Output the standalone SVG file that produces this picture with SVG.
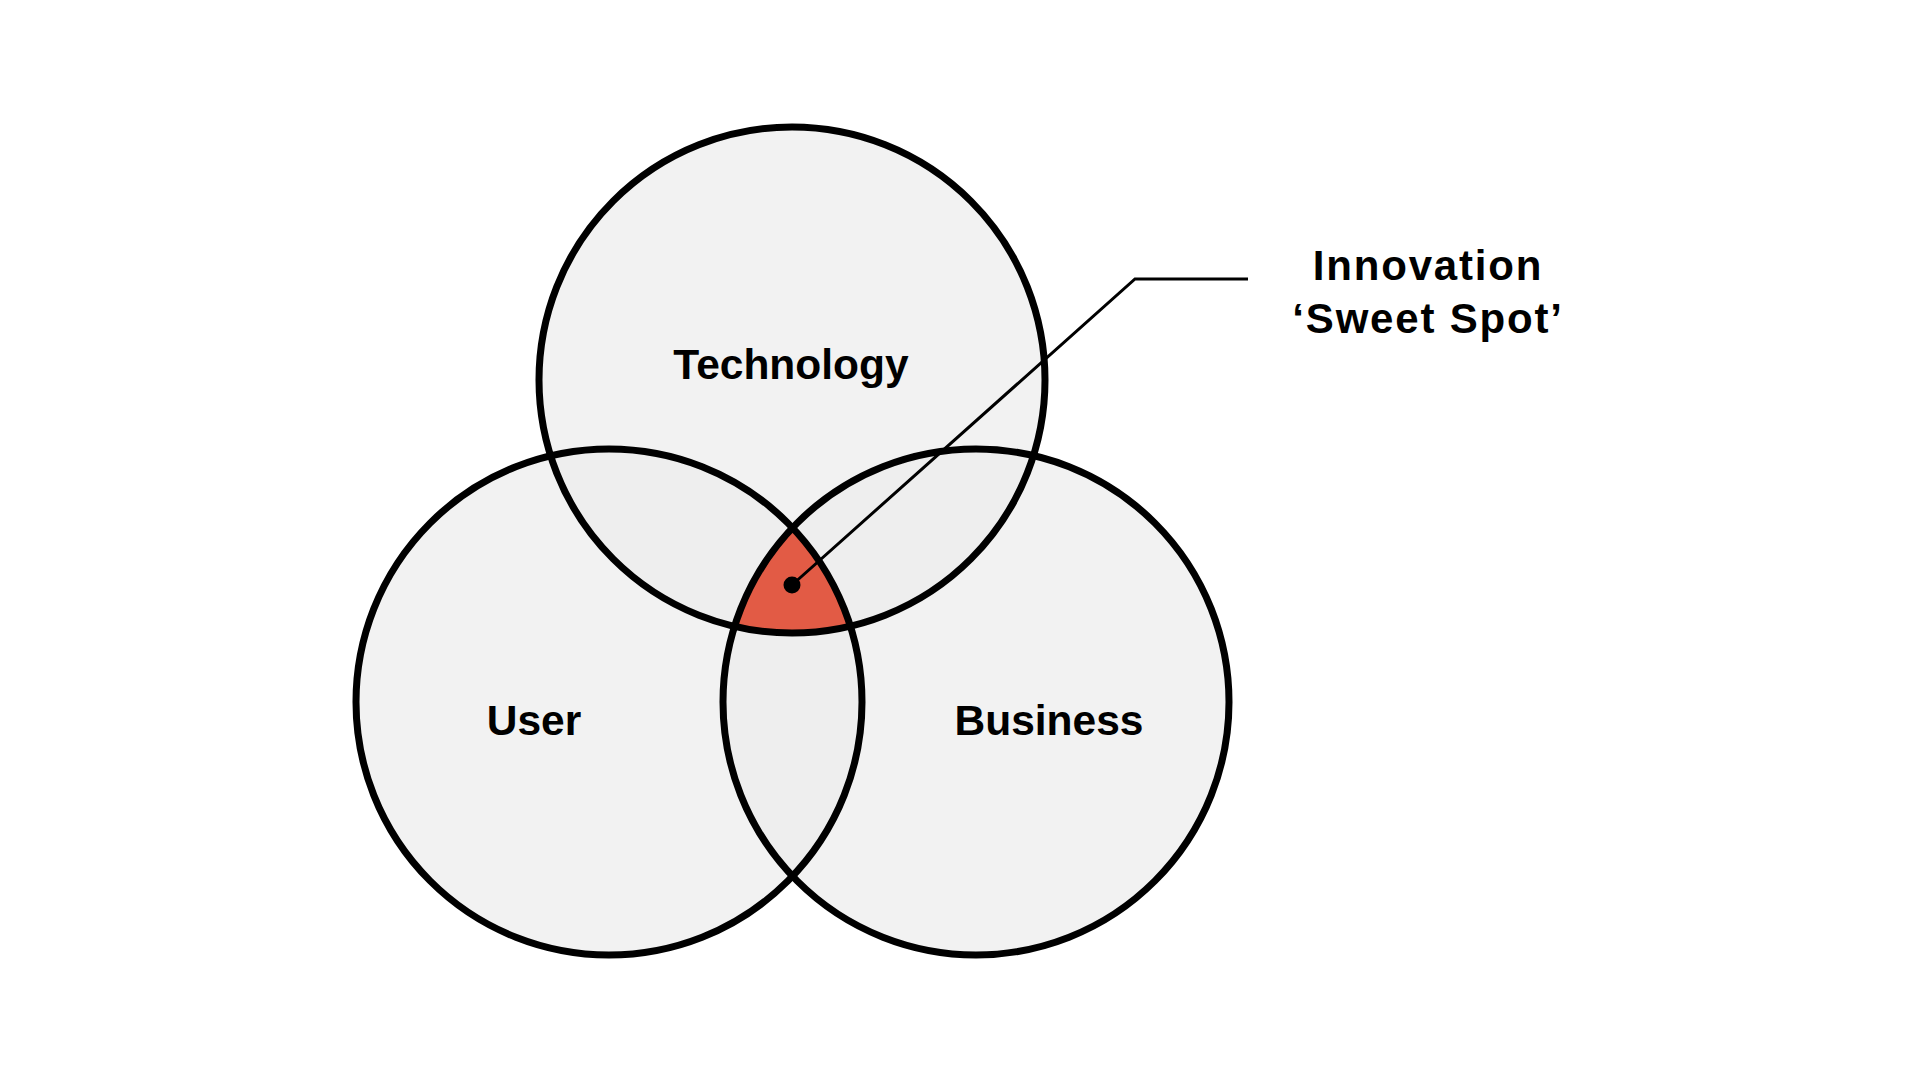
<svg xmlns="http://www.w3.org/2000/svg" width="1920" height="1080" viewBox="0 0 1920 1080">
  <style>
    .disc { fill: #f2f2f2; }
    .ring { fill: none; stroke: #000; stroke-width: 7; }
    .overlap { fill: #eeeeee; }
    .label { font-family: "Liberation Sans", Arial, sans-serif; font-weight: 700; font-size: 42.5px; fill: #000; text-anchor: middle; }
    .callout { font-size: 42px; letter-spacing: 1.8px; }
    .leader { fill: none; stroke: #000; stroke-width: 3; stroke-linejoin: miter; }
  </style>
  <defs>
    <clipPath id="clip-tech"><circle cx="792" cy="380" r="253"/></clipPath>
    <clipPath id="clip-user"><circle cx="609" cy="702" r="253"/></clipPath>
  </defs>

  <rect width="1920" height="1080" fill="#ffffff"/>

  <!-- circle fills -->
  <g id="fills">
    <circle class="disc" cx="792" cy="380" r="253"/>
    <circle class="disc" cx="609" cy="702" r="253"/>
    <circle class="disc" cx="976" cy="702" r="253"/>
  </g>

  <!-- pairwise overlaps, slightly darker -->
  <g id="overlaps">
    <g clip-path="url(#clip-tech)">
      <circle class="overlap" cx="609" cy="702" r="253"/>
      <circle class="overlap" cx="976" cy="702" r="253"/>
    </g>
    <g clip-path="url(#clip-user)">
      <circle class="overlap" cx="976" cy="702" r="253"/>
    </g>
  </g>

  <!-- triple overlap -->
  <g id="node-sweet-spot">
    <g clip-path="url(#clip-tech)">
      <g clip-path="url(#clip-user)">
        <circle cx="976" cy="702" r="253" fill="#e25b45"/>
      </g>
    </g>
  </g>

  <g id="node-technology">
    <circle class="ring" cx="792" cy="380" r="253"/>
    <text class="label" x="791" y="379">Technology</text>
  </g>
  <g id="node-user">
    <circle class="ring" cx="609" cy="702" r="253"/>
    <text class="label" x="534" y="735">User</text>
  </g>
  <g id="node-business">
    <circle class="ring" cx="976" cy="702" r="253"/>
    <text class="label" x="1049" y="735">Business</text>
  </g>

  <g id="connectors">
    <polyline class="leader" points="792,585 1135,279 1248,279"/>
    <circle cx="792" cy="585" r="8.5" fill="#000"/>
  </g>

  <g id="node-callout">
    <text class="label callout" x="1428" y="280">Innovation</text>
    <text class="label callout" x="1428" y="333">‘Sweet Spot’</text>
  </g>
</svg>
